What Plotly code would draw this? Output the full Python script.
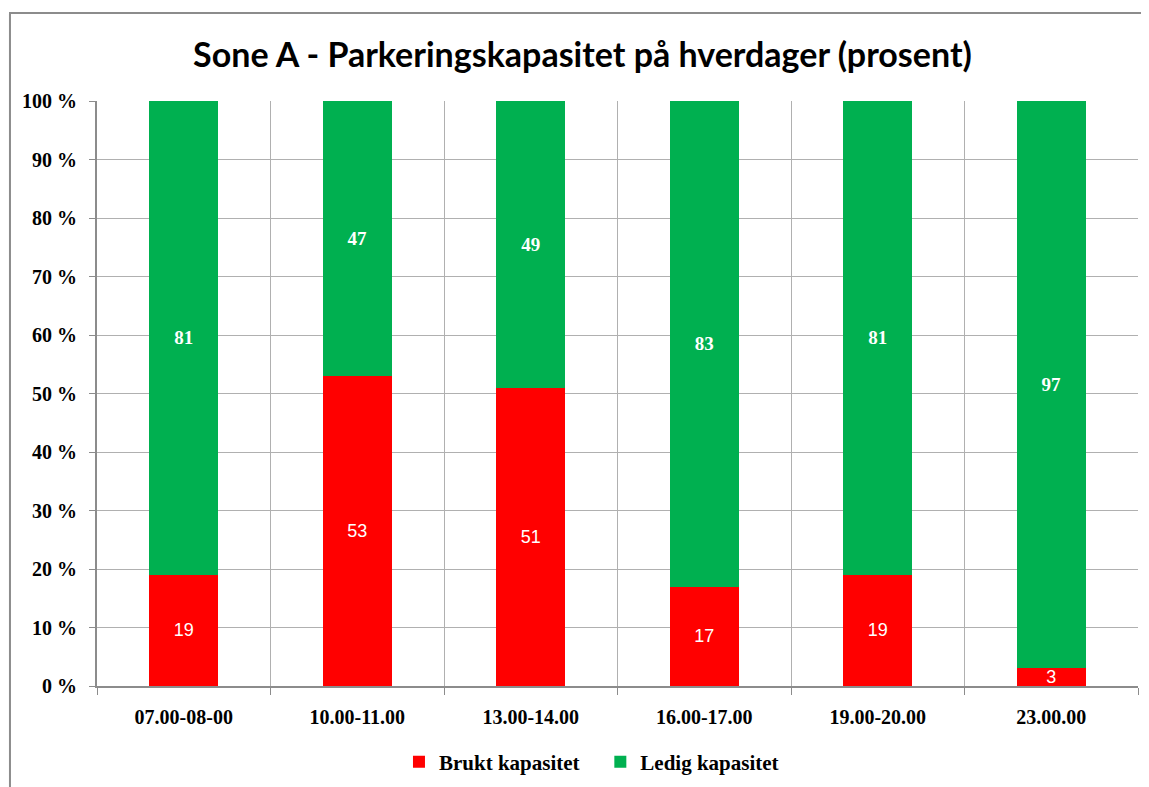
import plotly.graph_objects as go

tider = ["07.00-08-00", "10.00-11.00", "13.00-14.00", "16.00-17.00", "19.00-20.00", "23.00.00"]
brukt = [19, 53, 51, 17, 19, 3]
ledig = [81, 47, 49, 83, 81, 97]

fig = go.Figure()

fig.add_trace(go.Bar(
    x=tider, y=brukt, name="<b>Brukt kapasitet</b>&nbsp;&nbsp;&nbsp;",
    marker=dict(color="#FF0000", line=dict(width=0)),
    text=brukt, textposition="inside", insidetextanchor="middle",
    constraintext="none",
    textfont=dict(family="Liberation Sans", size=18, color="white"),
    textangle=0
))
fig.add_trace(go.Bar(
    x=tider, y=ledig, name="<b>Ledig kapasitet</b>",
    marker=dict(color="#00B050", line=dict(width=0)),
    text=ledig, textposition="inside", insidetextanchor="middle",
    texttemplate="<b>%{text}</b>", constraintext="none",
    textfont=dict(family="Liberation Serif", size=19, color="white"),
    textangle=0
))

# ramme rundt diagrammet
fig.add_shape(type="rect", xref="paper", yref="paper",
              x0=-0.0836, x1=1.03, y0=-0.25, y1=1.1504,
              line=dict(color="#8c8c8c", width=2), layer="below")

fig.update_layout(
    width=1149, height=787,
    barmode="stack", bargap=0.6,
    title=dict(text="<b>Sone A - Parkeringskapasitet på hverdager (prosent)</b>",
               x=0.5, xanchor="center", y=0.94, yanchor="middle",
               font=dict(family="Lato", size=34, color="black")),
    margin=dict(l=89, r=19, t=93, b=109, autoexpand=False),
    plot_bgcolor="white", paper_bgcolor="white",
    legend=dict(orientation="h", x=0.475, xanchor="center", y=-0.13, yanchor="middle",
                font=dict(family="Liberation Serif", size=21, color="black"),
                itemwidth=30, traceorder="normal"),
    font=dict(family="Liberation Serif", color="black"),
)

fig.update_xaxes(
    type="category", tickson="boundaries", showgrid=True, gridcolor="#b0b0b0", gridwidth=1,
    showline=True, linecolor="#8c8c8c", linewidth=2, mirror=False,
    ticks="outside", ticklen=7, tickcolor="#8c8c8c", ticklabelstandoff=12,
    tickfont=dict(family="Liberation Serif", size=20, color="black"),
    tickprefix="<b>", ticksuffix="</b>"
)
fig.update_yaxes(
    range=[0, 100], dtick=10, showgrid=True, gridcolor="#b0b0b0", gridwidth=1,
    showline=True, linecolor="#8c8c8c", linewidth=2,
    ticks="outside", ticklen=6, tickcolor="#8c8c8c", ticklabelstandoff=8,
    tickprefix="<b>", ticksuffix=" %</b>",
    tickfont=dict(family="Liberation Serif", size=20, color="black"),
    zeroline=False
)

fig.write_html("out.html")
